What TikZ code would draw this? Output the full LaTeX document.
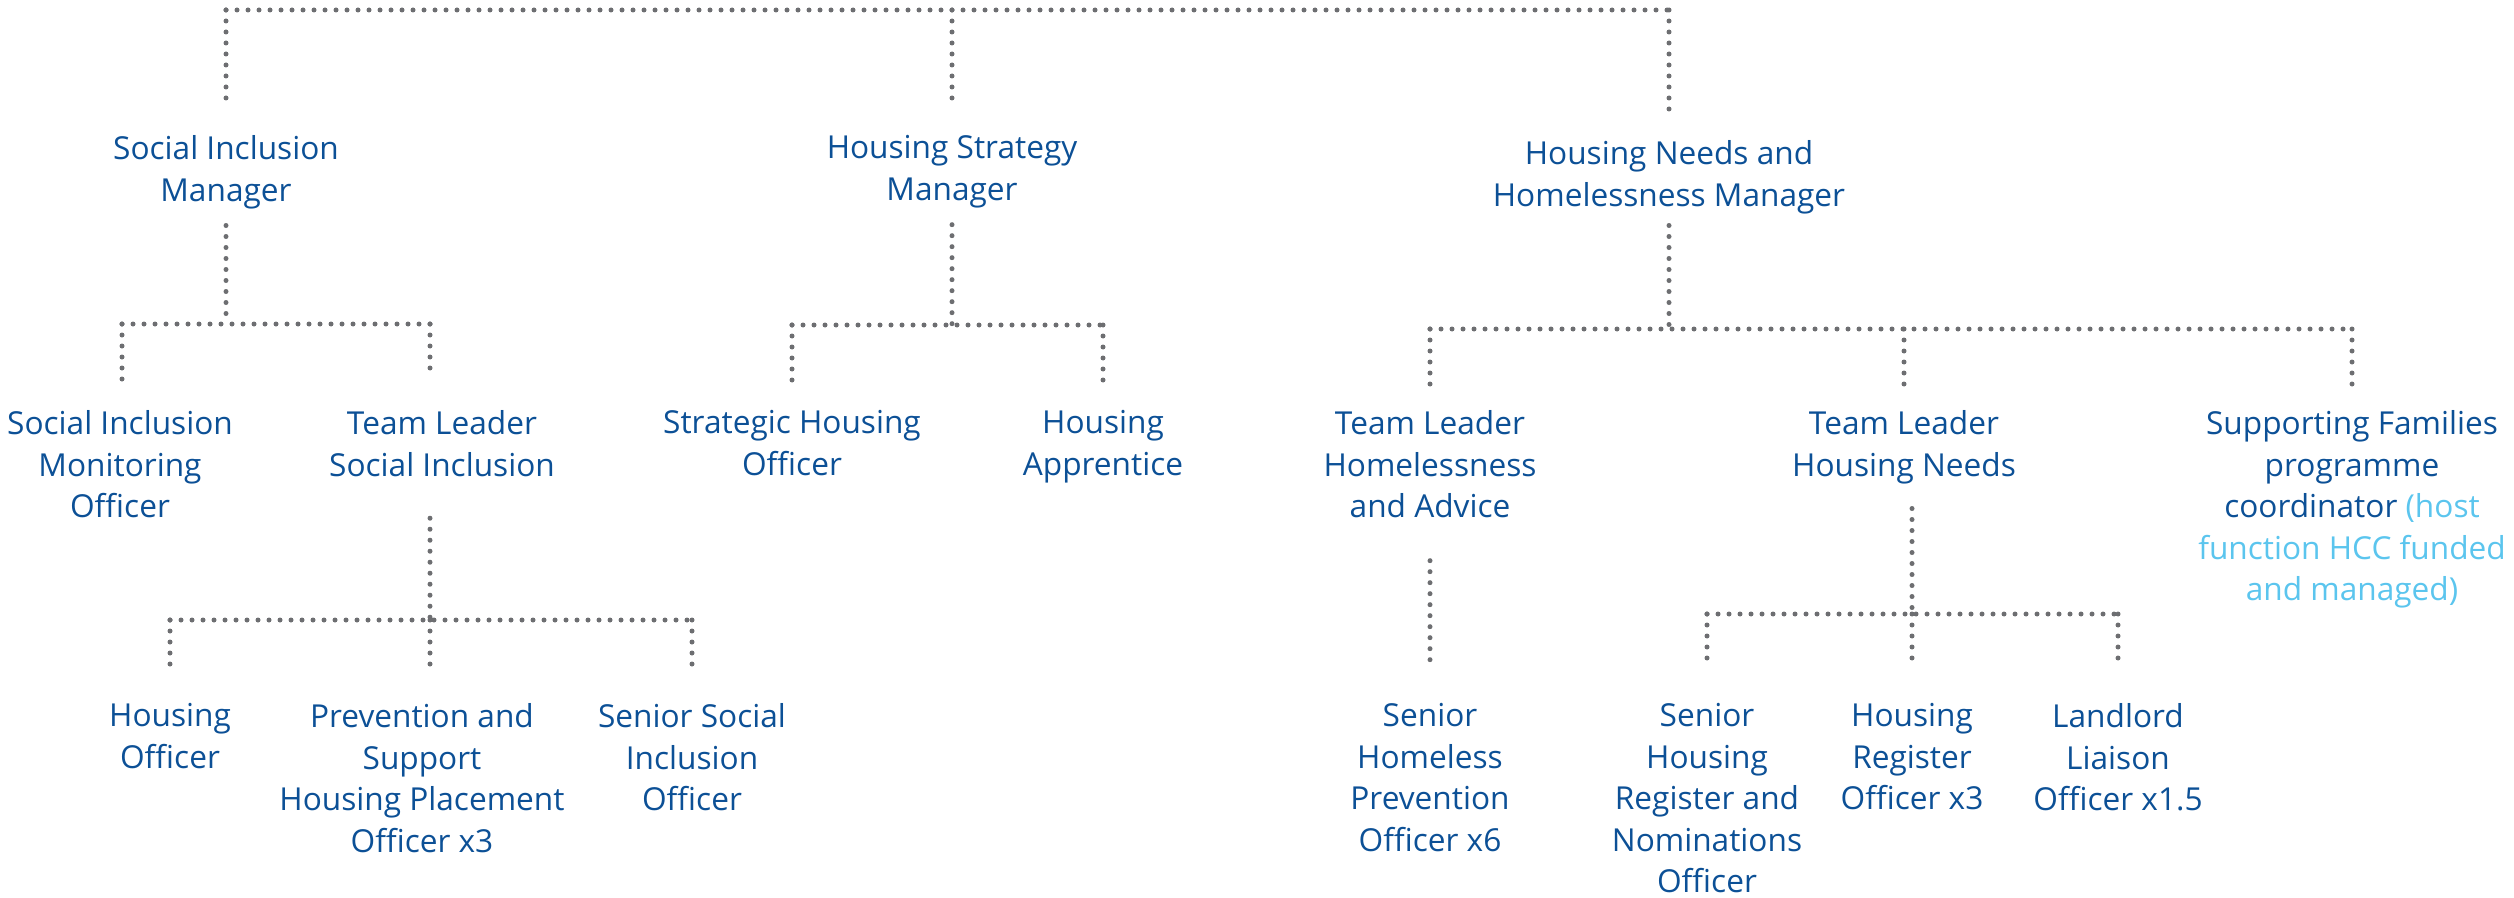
\documentclass[tikz,border=0pt]{standalone}
\usepackage{fontspec}
\setmainfont{Open Sans}
\usepackage{xcolor}
\usepackage{tikz}
\usetikzlibrary{positioning}
\definecolor{navy}{HTML}{0C5096}
\definecolor{sky}{HTML}{5BC5EE}
\definecolor{dotgray}{HTML}{6D6E71}
\tikzset{post/.style={align=center,inner sep=0pt,text=navy,anchor=north,font=\fontsize{9}{11.8}\selectfont}}
\tikzset{link/.style={dotgray,line width=0.05cm,line cap=round,dash pattern=on 0pt off 0.11cm}}

\begin{document}
\begin{tikzpicture}
        \useasboundingbox (0,0) rectangle (25.14,8.97);

        \node[post] (a)at (2.26,7.62) {Social Inclusion\\Manager};
        \node[post] (b)at (9.52,7.62) {Housing Strategy\\Manager};
        \node[post] (c)at (16.69,7.57) {Housing Needs and\\Homelessness Manager};

        \node[post] (d)at (1.20,4.87) {Social Inclusion\\Monitoring\\Officer};
        \node[post] (e)at (4.42,4.87) {Team Leader\\Social Inclusion};
        \node[post] (f)at (7.92,4.87) {Strategic Housing\\Officer};
        \node[post] (g)at (11.03,4.87) {Housing\\Apprentice};
        \node[post] (h)at (14.30,4.87) {Team Leader\\Homelessness\\and Advice};
        \node[post] (i)at (19.04,4.87) {Team Leader\\Housing Needs};
        \node[post] (j)at (23.52,4.87) {Supporting Families\\programme\\coordinator {\color{sky}(host}\\{\color{sky}function HCC funded}\\{\color{sky}and managed)}};

        \node[post] (k)at (1.70,1.94) {Housing\\Officer};
        \node[post] (l)at (4.22,1.94) {Prevention and\\Support\\Housing Placement\\Officer x3};
        \node[post] (m)at (6.92,1.94) {Senior Social\\Inclusion\\Officer};
        \node[post] (n)at (14.30,1.94) {Senior\\Homeless\\Prevention\\Officer x6};
        \node[post] (o)at (17.07,1.94) {Senior\\Housing\\Register and\\Nominations\\Officer};
        \node[post] (p)at (19.12,1.94) {Housing\\Register\\Officer x3};
        \node[post] (q)at (21.18,1.94) {Landlord\\Liaison\\Officer x1.5};

        % top row
        \coordinate (t1) at (2.26,8.87);
        \coordinate (t2) at (9.52,8.87);
        \coordinate (t3) at (16.69,8.87);
        \draw [link] (t1) -- (t3);
        \draw [link,shorten >=0.31cm] (t1) -- (a);
        \draw [link,shorten >=0.31cm] (t2) -- (b);
        \draw [link,shorten >=0.26cm] (t3) -- (c);

        % managers
        \coordinate (u1) at (2.26,5.73);
        \coordinate (u1l) at (1.22,5.73);
        \coordinate (u1r) at (4.30,5.73);
        \draw [link,shorten <=0.16cm] (a) -- (u1);
        \draw [link] (u1l) -- (u1r);
        \draw [link,shorten >=0.25cm] (u1l) -- (u1l |- d.north);
        \draw [link,shorten >=0.38cm] (u1r) -- (u1r |- e.north);

        \coordinate (u2) at (9.52,5.72);
        \coordinate (u2l) at (7.92,5.72);
        \coordinate (u2r) at (11.03,5.72);
        \draw [link,shorten <=0.16cm] (b) -- (u2);
        \draw [link] (u2l) -- (u2r);
        \draw [link,shorten >=0.25cm] (u2l) -- (f);
        \draw [link,shorten >=0.25cm] (u2r) -- (g);

        \coordinate (u3) at (16.69,5.68);
        \coordinate (u3l) at (14.30,5.68);
        \coordinate (u3m) at (19.04,5.68);
        \coordinate (u3r) at (23.52,5.68);
        \draw [link,shorten <=0.11cm] (c) -- (u3);
        \draw [link] (u3l) -- (u3r);
        \draw [link,shorten >=0.25cm] (u3l) -- (h);
        \draw [link,shorten >=0.25cm] (u3m) -- (i);
        \draw [link,shorten >=0.25cm] (u3r) -- (j);

        % team leaders
        \coordinate (v1) at (4.30,2.77);
        \coordinate (v1l) at (1.70,2.77);
        \coordinate (v1r) at (6.92,2.77);
        \draw [link,shorten <=0.41cm] (e.south -| v1) -- (v1);
        \draw [link] (v1l) -- (v1r);
        \draw [link,shorten >=0.30cm] (v1l) -- (k);
        \draw [link,shorten >=0.30cm] (v1) -- (v1 |- l.north);
        \draw [link,shorten >=0.30cm] (v1r) -- (m);

        \draw [link,shorten <=0.42cm,shorten >=0.38cm] (h) -- (n);

        \coordinate (w1) at (19.12,2.83);
        \coordinate (w1l) at (17.07,2.83);
        \coordinate (w1r) at (21.18,2.83);
        \draw [link,shorten <=0.24cm] (i.south -| w1) -- (w1);
        \draw [link] (w1l) -- (w1r);
        \draw [link,shorten >=0.38cm] (w1l) -- (o);
        \draw [link,shorten >=0.38cm] (w1) -- (p);
        \draw [link,shorten >=0.38cm] (w1r) -- (q);
    \end{tikzpicture}
\end{document}
